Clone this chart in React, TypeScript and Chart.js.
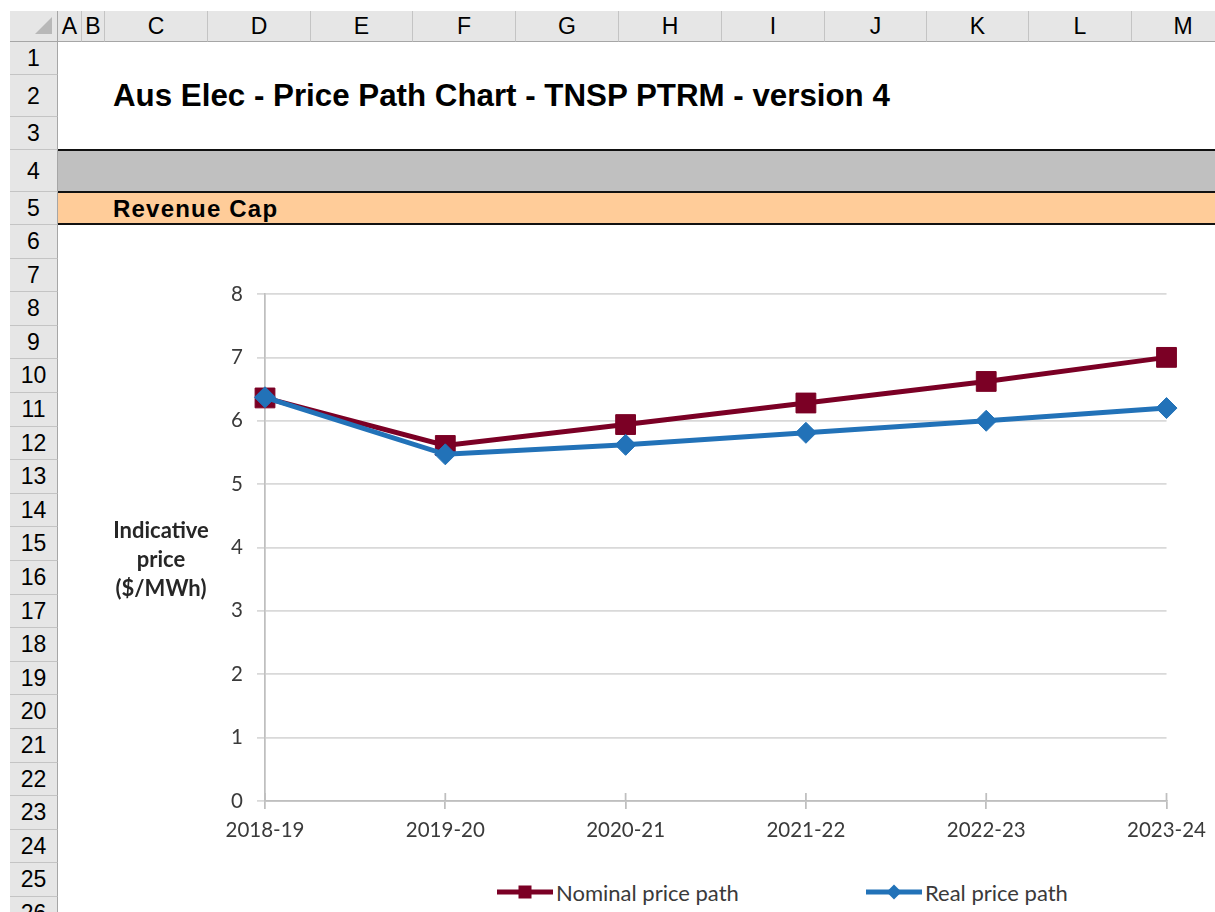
import React, { useEffect, useRef } from 'react';
import { Chart, registerables } from 'chart.js';

Chart.register(...registerables);

// ---- data ----
const years = ['2018-19', '2019-20', '2020-21', '2021-22', '2022-23', '2023-24'];
const nominalPrice = [6.36, 5.61, 5.94, 6.28, 6.62, 7.0];
const realPrice = [6.37, 5.47, 5.62, 5.81, 6.0, 6.2];
const seriesNames = ['Nominal price path', 'Real price path'];
const yAxisTitle = ['Indicative', 'price', '($/MWh)'];
const sheetTitle = 'Aus Elec - Price Path Chart - TNSP PTRM - version 4';
const sectionTitle = 'Revenue Cap';
const columnLetters = ['A', 'B', 'C', 'D', 'E', 'F', 'G', 'H', 'I', 'J', 'K', 'L', 'M'];
const rowCount = 26;

// ---- layout / style constants ----
const NOMINAL_COLOR = '#7B0025';
const REAL_COLOR = '#2272B8';
const HEADER_BG = '#E6E6E6';
const HEADER_LINE = '#C4C4C4';
const HEADER_EDGE = '#A6A6A6';
const colWidths = [24, 23, 103, 103, 102, 103, 103, 103, 103, 102, 102, 103, 103];
const firstRowHeights = [33, 42, 33, 42, 33];
const otherRowHeight = 33.6;
const ROWHDR_LEFT = 10;
const ROWHDR_RIGHT = 58;
const COLHDR_TOP = 11;
const COLHDR_BOTTOM = 42;

const crossTicks = {
  id: 'crossTicks',
  beforeDatasetsDraw(chart: any) {
    const x = chart.scales.x;
    const ctx = chart.ctx;
    const bottom = chart.chartArea.bottom;
    ctx.save();
    ctx.strokeStyle = '#BFBFBF';
    ctx.lineWidth = 1.75;
    for (let i = 0; i < x.ticks.length; i++) {
      const px = x.getPixelForTick(i);
      ctx.beginPath();
      ctx.moveTo(px, bottom - 8);
      ctx.lineTo(px, bottom);
      ctx.stroke();
    }
    ctx.restore();
  },
};

function PriceChart() {
  const ref = useRef<HTMLCanvasElement | null>(null);
  useEffect(() => {
    if (!ref.current) return;
    const tickFont = { family: 'Lato', size: 20.5 };
    const chart = new Chart(ref.current, {
      type: 'line',
      data: {
        labels: years,
        datasets: [
          {
            label: seriesNames[0],
            data: nominalPrice,
            borderColor: NOMINAL_COLOR,
            backgroundColor: NOMINAL_COLOR,
            borderWidth: 5,
            pointStyle: 'rect',
            pointRadius: 14,
            pointBorderWidth: 1,
            pointBackgroundColor: NOMINAL_COLOR,
            pointBorderColor: NOMINAL_COLOR,
            tension: 0,
            order: 1,
          },
          {
            label: seriesNames[1],
            data: realPrice,
            borderColor: REAL_COLOR,
            backgroundColor: REAL_COLOR,
            borderWidth: 5,
            pointStyle: 'rectRot',
            pointRadius: 10.5,
            pointBorderWidth: 1,
            pointBackgroundColor: REAL_COLOR,
            pointBorderColor: REAL_COLOR,
            tension: 0,
            order: 0,
          },
        ],
      },
      options: {
        animation: false,
        responsive: true,
        maintainAspectRatio: false,
        layout: { padding: { top: 34, right: 47, left: 0, bottom: 0 } },
        plugins: {
          legend: { display: false },
          tooltip: { enabled: false },
        },
        scales: {
          x: {
            offset: false,
            grid: {
              display: true,
              drawOnChartArea: false,
              drawTicks: true,
              tickLength: 8,
              color: '#BFBFBF',
              lineWidth: 1.75,
            },
            border: { color: '#BFBFBF', width: 1.75 },
            ticks: { font: tickFont, color: '#3A3A3A', padding: 9, maxRotation: 0 },
            afterFit: (s: any) => {
              s.height = 59;
            },
          },
          y: {
            min: 0,
            max: 8,
            grid: { color: '#D9D9D9', lineWidth: 1.75, tickLength: 8 },
            border: { color: '#BFBFBF', width: 1.75 },
            ticks: { stepSize: 1, font: tickFont, color: '#3A3A3A', padding: 14 },
            afterFit: (s: any) => {
              s.width = 65;
            },
          },
        },
      },
      plugins: [crossTicks],
    });
    return () => chart.destroy();
  }, []);
  return <canvas ref={ref} />;
}

function LegendMarker({ color, shape }: { color: string; shape: 'square' | 'diamond' }) {
  return (
    <svg width={56} height={20} style={{ display: 'block' }}>
      <line x1={0} y1={10} x2={56} y2={10} stroke={color} strokeWidth={5} strokeLinecap="round" />
      {shape === 'square' ? (
        <rect x={21.5} y={3.5} width={13} height={13} fill={color} />
      ) : (
        <polygon points="28,2.5 35.5,10 28,17.5 20.5,10" fill={color} />
      )}
    </svg>
  );
}

export default function App() {
  // column boundaries
  const colLefts: number[] = [];
  let cx = ROWHDR_RIGHT;
  for (const w of colWidths) {
    colLefts.push(cx);
    cx += w;
  }
  // row boundaries
  const rowTops: number[] = [];
  const rowHeights: number[] = [];
  let ry = COLHDR_BOTTOM;
  for (let r = 0; r < rowCount; r++) {
    const h = r < firstRowHeights.length ? firstRowHeights[r] : otherRowHeight;
    rowTops.push(ry);
    rowHeights.push(h);
    ry += h;
  }
  const hdrFont: React.CSSProperties = {
    fontFamily: '"Liberation Sans", Arial, sans-serif',
    fontSize: 23,
    color: '#000',
  };
  const row4Top = rowTops[3];
  const row5Top = rowTops[4];
  const row6Top = rowTops[5];

  return (
    <div
      style={{
        position: 'fixed',
        left: 0,
        top: 0,
        width: 1215,
        height: 912,
        overflow: 'hidden',
        background: '#fff',
        fontFamily: '"Liberation Sans", Arial, sans-serif',
      }}
    >
      {/* corner */}
      <div
        style={{
          position: 'absolute',
          left: ROWHDR_LEFT,
          top: COLHDR_TOP,
          width: ROWHDR_RIGHT - ROWHDR_LEFT,
          height: COLHDR_BOTTOM - COLHDR_TOP,
          background: HEADER_BG,
          boxSizing: 'border-box',
          borderRight: `1px solid ${HEADER_EDGE}`,
          borderBottom: `1px solid ${HEADER_EDGE}`,
        }}
      >
        <svg width={48} height={31} style={{ position: 'absolute', left: 0, top: 0 }}>
          <polygon points="42,6 42,23 25,23" fill="#B8B8B8" />
        </svg>
      </div>
      {/* column headers */}
      {columnLetters.map((c, i) => (
        <div
          key={c}
          style={{
            ...hdrFont,
            position: 'absolute',
            left: colLefts[i],
            top: COLHDR_TOP,
            width: colWidths[i],
            height: COLHDR_BOTTOM - COLHDR_TOP,
            background: HEADER_BG,
            boxSizing: 'border-box',
            borderRight: `1px solid ${HEADER_LINE}`,
            borderBottom: `1px solid ${HEADER_EDGE}`,
            textAlign: 'center',
            lineHeight: `${COLHDR_BOTTOM - COLHDR_TOP}px`,
          }}
        >
          {c}
        </div>
      ))}
      {/* row headers */}
      {rowTops.map((t, i) => (
        <div
          key={i}
          style={{
            ...hdrFont,
            position: 'absolute',
            left: ROWHDR_LEFT,
            top: t,
            width: ROWHDR_RIGHT - ROWHDR_LEFT,
            height: rowHeights[i],
            background: HEADER_BG,
            boxSizing: 'border-box',
            borderRight: `1px solid ${HEADER_EDGE}`,
            borderBottom: `1px solid ${HEADER_LINE}`,
            textAlign: 'center',
            lineHeight: `${rowHeights[i]}px`,
          }}
        >
          {i + 1}
        </div>
      ))}
      {/* title */}
      <div
        style={{
          position: 'absolute',
          left: 113,
          top: rowTops[1],
          height: rowHeights[1],
          lineHeight: `${rowHeights[1]}px`,
          fontSize: 31.3,
          fontWeight: 'bold',
          whiteSpace: 'nowrap',
          color: '#000',
        }}
      >
        {sheetTitle}
      </div>
      {/* row 4 grey band */}
      <div
        style={{
          position: 'absolute',
          left: ROWHDR_RIGHT,
          top: row4Top - 1,
          right: 0,
          height: row5Top - row4Top + 1,
          background: '#C0C0C0',
          boxSizing: 'border-box',
          borderTop: '2px solid #111',
        }}
      />
      {/* row 5 orange band */}
      <div
        style={{
          position: 'absolute',
          left: ROWHDR_RIGHT,
          top: row5Top - 1,
          right: 0,
          height: row6Top - row5Top + 1,
          background: '#FFCC99',
          boxSizing: 'border-box',
          borderTop: '2px solid #111',
          borderBottom: '2px solid #111',
        }}
      />
      <div
        style={{
          position: 'absolute',
          left: 113,
          top: row5Top,
          height: row6Top - row5Top,
          lineHeight: `${row6Top - row5Top}px`,
          fontSize: 24,
          fontWeight: 'bold',
          letterSpacing: 1.2,
          whiteSpace: 'nowrap',
          color: '#000',
        }}
      >
        {sectionTitle}
      </div>
      {/* chart */}
      <div style={{ position: 'absolute', left: 200, top: 260, width: 1015, height: 600 }}>
        <PriceChart />
      </div>
      {/* y axis title */}
      <div
        style={{
          position: 'absolute',
          left: 100,
          top: 515,
          width: 122,
          textAlign: 'center',
          fontFamily: 'Lato, sans-serif',
          fontWeight: 'bold',
          fontSize: 22,
          lineHeight: '29px',
          color: '#262626',
        }}
      >
        {yAxisTitle.map((l) => (
          <div key={l}>{l}</div>
        ))}
      </div>
      {/* legend */}
      {[
        { name: seriesNames[0], color: NOMINAL_COLOR, shape: 'square' as const, x: 497 },
        { name: seriesNames[1], color: REAL_COLOR, shape: 'diamond' as const, x: 866 },
      ].map((it) => (
        <div
          key={it.name}
          style={{
            position: 'absolute',
            left: it.x,
            top: 878,
            height: 28,
            display: 'flex',
            alignItems: 'center',
            fontFamily: 'Lato, sans-serif',
            fontSize: 22,
            color: '#3A3A3A',
            whiteSpace: 'nowrap',
          }}
        >
          <LegendMarker color={it.color} shape={it.shape} />
          <span style={{ marginLeft: 3 }}>{it.name}</span>
        </div>
      ))}
    </div>
  );
}
